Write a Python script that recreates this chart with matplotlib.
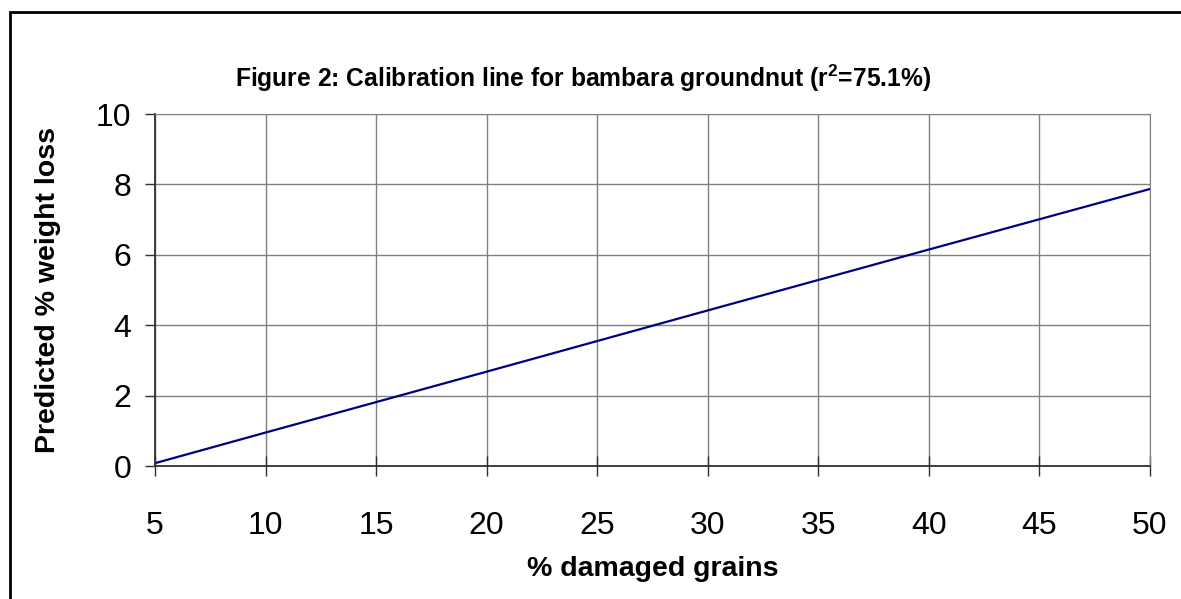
import matplotlib
matplotlib.use("Agg")
import matplotlib.pyplot as plt
from matplotlib.patches import Rectangle

# calibration line
damaged = [5, 10, 20, 30, 40, 50]
weight_loss = [0.08, 0.95, 2.68, 4.42, 6.15, 7.87]

xticks = [5, 10, 15, 20, 25, 30, 35, 40, 45, 50]
yticks = [0, 2, 4, 6, 8, 10]

plt.rcParams['font.family'] = ['Liberation Sans', 'DejaVu Sans']
plt.rcParams['mathtext.fontset'] = 'custom'
plt.rcParams['mathtext.bf'] = 'Liberation Sans:bold'
plt.rcParams['mathtext.rm'] = 'Liberation Sans:bold'

fig = plt.figure(figsize=(11.81, 5.99), dpi=100)
ax = fig.add_axes([155/1181, 1 - 466/599, (1150-155)/1181, (466-114)/599])

ax.plot(damaged, weight_loss, color='#000080', lw=1.6)

ax.set_xlim(5, 50)
ax.set_ylim(0, 10)
ax.set_xticks(xticks)
ax.set_yticks(yticks)
ax.grid(True, color='#808080', lw=1.0)
ax.set_axisbelow(True)
for s in ['top', 'right']:
    ax.spines[s].set_color('#808080')
for s in ['left', 'bottom']:
    ax.spines[s].set_color('#303030')
    ax.spines[s].set_linewidth(1.3)
ax.tick_params(axis='x', direction='inout', length=15, width=1, color='#303030',
               labelsize=23, pad=25)
ax.tick_params(axis='y', direction='out', length=7, width=1, color='#303030',
               labelsize=23, pad=10)

ax.set_xlabel('% damaged grains', fontsize=20.5, fontweight='bold', labelpad=11)
ax.set_ylabel('Predicted % weight loss', fontsize=20.5, fontweight='bold', labelpad=25)
fig.text(583/1181, 1 - 78/599, r'Figure 2: Calibration line for bambara groundnut (r$^{\mathbf{2}}$=75.1%)',
         ha='center', va='center', fontsize=17.7, fontweight='bold')

# chart frame
fig.patches.append(Rectangle((10/1181, -0.1), 1.2, 1 - 12/599 + 0.1, transform=fig.transFigure,
                             fill=False, ec='black', lw=2))

fig.savefig('out.png', dpi=100)
